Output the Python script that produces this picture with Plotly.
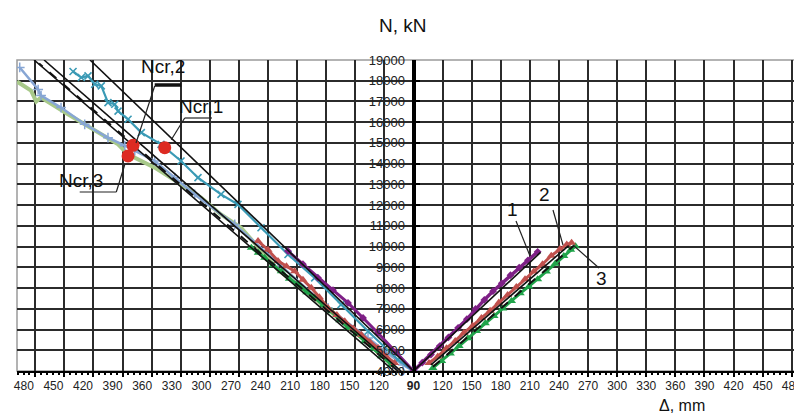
import plotly.graph_objects as go

# ---------------- data (Δ in mm as labelled on the axis, N in kN) ----------------
# Left branch (plotted to the left of the N axis)
teal_d = [441, 432.5, 425.6, 418.7, 411.9, 405, 398, 394.6, 384.3, 370.6, 350.3, 329.7,
          312.2, 288.5, 271, 247.2, 219.4, 191.9, 164.7, 136.9, 106, 90]
teal_n = [18445, 18155, 18237, 17831, 17754, 16947, 16865, 16536, 16140, 15498, 14933, 14131,
          13324, 12517, 12034, 10908, 9618, 8493, 7203, 5918, 4546, 4000]

lblue_d = [496, 477, 474, 453.4, 429, 405, 387.7, 377.4, 356.8, 336.2, 315.6, 274.3,
           229.7, 178.1, 136.9, 100.8, 90]
lblue_n = [18640, 17575, 17285, 16706, 15899, 15256, 14870, 14628, 14131, 13324, 12517, 11068,
           9217, 7044, 5594, 4290, 4000]

lgreen_d = [498.8, 484.3, 479, 474, 446.2, 422.5, 394.6, 384.3, 356.8, 329.7, 309.1, 288.5,
            267.8, 229.7, 198.8, 167.8, 136.9, 113.2]
lgreen_n = [17962, 17527, 17000, 17189, 16382, 15739, 14933, 14450, 13807, 13000, 12358, 11551,
            10908, 8879, 7768, 6560, 5353, 4338]

lpurple_d = [219.4, 204, 188.5, 173, 157.5, 142, 126.6, 108, 90]
lpurple_n = [9783, 9150, 8493, 7900, 7285, 6560, 5836, 4900, 4000]

lred_d = [250.3, 240, 229.7, 221, 212.5, 204, 195.4, 187, 178.1, 169, 160.9, 152, 143.8, 135, 126.6, 118, 109.4]
lred_n = [10266, 9850, 9300, 9050, 8817, 8400, 8010, 7560, 7044, 6700, 6401, 6050, 5754, 5400, 5111, 4700, 4386]

lgr_d = [257.2, 250, 243.4, 235, 226.3, 218, 209.1, 200, 191.9, 183, 174.7, 166, 157.5, 149, 140.3, 131, 123.2, 112.9]
lgr_n = [9942, 9700, 9459, 9100, 8817, 8450, 8169, 7800, 7527, 7180, 6884, 6450, 6077, 5800, 5435, 5080, 4710, 4304]

# Right branch
rpurple_d = [90, 99, 108, 117, 126, 136, 145, 154, 163, 172, 181, 190, 199, 208, 218]
rpurple_n = [4000, 4400, 4790, 5200, 5620, 6080, 6500, 6990, 7430, 7850, 8230, 8620, 8990, 9340, 9750]

rred_d = [106, 115, 124, 133, 142, 151, 160, 169, 178, 187, 196, 205, 214, 223, 232, 241, 248, 253]
rred_n = [4390, 4700, 5100, 5450, 5850, 6180, 6560, 6900, 7300, 7660, 8050, 8420, 8800, 9150,
          9560, 9880, 10100, 10180]

rgreen_d = [110, 119, 128, 137, 146, 155, 164, 173, 182, 191, 200, 209, 218, 227, 236, 245, 252, 257]
rgreen_n = [4150, 4480, 4850, 5200, 5580, 5930, 6300, 6650, 7020, 7380, 7750, 8080, 8420, 8800,
            9170, 9550, 9850, 10020]

# Straight reference lines
fitL_upper_d, fitL_upper_n = [90, 423.5], [4000, 19000]
fitL_mid_d, fitL_mid_n = [102.9, 470.9], [4000, 19000]
fitL_dash_d, fitL_dash_n = [106, 476], [4000, 18830]
fitL_low_d, fitL_low_n = [110.1, 481.2], [4000, 19000]
fitR1_d, fitR1_n = [90, 221], [4000, 9720]
fitR2_d, fitR2_n = [108, 250], [4300, 10050]
fitR3_d, fitR3_n = [110, 255], [4200, 10030]

# Critical forces (left branch)
ncr_d = [346.5, 379.2, 384.3]
ncr_n = [14773, 14884, 14372]
ncr_labels = ["Ncr,1", "Ncr,2", "Ncr,3"]

# Axis tick labels
tick_steps = [120, 150, 180, 210, 240, 270, 300, 330, 360, 390, 420, 450, 480]
center_label = "90"
n_ticks = [4000, 5000, 6000, 7000, 8000, 9000, 10000, 11000, 12000, 13000, 14000, 15000,
           16000, 17000, 18000, 19000]


def L(ds):
    return [-(d - 90) for d in ds]


def R(ds):
    return [d - 90 for d in ds]


# ---------------- geometry helpers for decorations ----------------
XR = 408.8
W, H = 802, 419
ML, MR, MT, MB = 9, 0, 52, 56
PW = W - ML - MR
PH = H - MT - MB


def px2x(p):
    return (p - ML) * (2 * XR) / PW - XR


def px2y(p):
    return 4000 + (MT + PH - p) * 15000 / PH


FONT = "Liberation Sans, Arial, sans-serif"

fig = go.Figure()

def add(x, y, color, width, symbol=None, msize=6, dash=None, mline=None):
    mode = "lines+markers" if symbol else "lines"
    marker = None
    if symbol:
        marker = dict(symbol=symbol, size=msize, color=color,
                      line=dict(color=color, width=mline if mline else 0))
    fig.add_trace(go.Scatter(x=x, y=y, mode=mode,
                             line=dict(color=color, width=width, dash=dash),
                             marker=marker, hoverinfo="skip", showlegend=False))

# long left curves
add(L(lgreen_d), lgreen_n, "#a8c98a", 4)
add(L(lblue_d), lblue_n, "#87a6d4", 2.5, "cross-thin", 7, mline=1.5)
add(L(teal_d), teal_n, "#3a9ab5", 2.2, "x-thin", 7, mline=1.6)
# short curves
add(L(lgr_d), lgr_n, "#20a44a", 3, "triangle-up", 8)
add(L(lred_d), lred_n, "#c0504d", 3, "triangle-up", 8)
add(L(lpurple_d), lpurple_n, "#7e1f86", 3, "diamond", 6)
add(R(rgreen_d), rgreen_n, "#20a44a", 3, "triangle-up", 8)
add(R(rred_d), rred_n, "#c0504d", 3, "triangle-up", 8)
add(R(rpurple_d), rpurple_n, "#7e1f86", 3.5, "diamond", 6)
# straight lines
add(L(fitL_upper_d), fitL_upper_n, "#111", 1.6)
add(L(fitL_mid_d), fitL_mid_n, "#111", 1.6)
add(L(fitL_dash_d), fitL_dash_n, "#111", 2, dash="dash")
add(L(fitL_low_d), fitL_low_n, "#111", 1.6)
add(R(fitR1_d), fitR1_n, "#111", 1.6)
add(R(fitR2_d), fitR2_n, "#111", 1.6)
add(R(fitR3_d), fitR3_n, "#111", 2, dash="dash")
# critical points
fig.add_trace(go.Scatter(x=L(ncr_d), y=ncr_n, mode="markers",
                         marker=dict(color="#dd2b22", size=13),
                         hoverinfo="skip", showlegend=False))
# dummy trace for the label axis
fig.add_trace(go.Scatter(x=[0], y=[4000], xaxis="x2", mode="markers",
                         marker=dict(opacity=0), hoverinfo="skip", showlegend=False))

# tick labels: right at grid lines, left slightly offset (as in source)
lab_vals = [px2x(371 - 29.6 * k) for k in range(len(tick_steps))][::-1] + [0] + [s - 90 for s in tick_steps]
lab_text = [str(s) for s in tick_steps][::-1] + ["<b>" + center_label + "</b>"] + [str(s) for s in tick_steps]

grid_c = "#2b2b2b"
fig.update_layout(
    width=W, height=H,
    margin=dict(l=ML, r=MR, t=MT, b=MB),
    paper_bgcolor="white", plot_bgcolor="white",
    font=dict(family=FONT, color="#111"),
    xaxis=dict(range=[-XR, XR], tick0=0, dtick=30, showgrid=True, gridcolor=grid_c, gridwidth=1.6,
               zeroline=True, zerolinecolor="black", zerolinewidth=3,
               showline=True, linecolor="black", linewidth=2,
               ticks="outside", ticklen=4, tickcolor="black", tickwidth=1.5,
               minor=dict(dtick=6, ticks="outside", ticklen=2, tickcolor="black", showgrid=False),
               showticklabels=False, fixedrange=True),
    xaxis2=dict(range=[-XR, XR], overlaying="x", anchor="y", side="bottom",
                tickmode="array", tickvals=lab_vals, ticktext=lab_text,
                showgrid=False, zeroline=False, showline=False, ticks="",
                tickfont=dict(size=12, family=FONT, color="#222"), ticklabelstandoff=6),
    yaxis=dict(range=[4000, 19000], tickmode="array", tickvals=n_ticks,
               ticktext=[str(v) for v in n_ticks],
               showgrid=True, gridcolor=grid_c, gridwidth=1.6,
               zeroline=False, anchor="free", position=0.5, side="left",
               showline=True, linecolor="black", linewidth=3,
               ticks="inside", ticklen=4, tickcolor="black", tickwidth=2,
               tickfont=dict(size=13, family=FONT, color="#222"), ticklabelstandoff=5,
               fixedrange=True),
)

# border (top/left grey)
fig.add_shape(type="rect", xref="paper", yref="paper", x0=0, x1=1, y0=0, y1=1,
              line=dict(color="#9a9a9a", width=1.5), layer="below")

# leader lines and underlines for the Ncr labels and curve numbers
def seg(p0, p1, w=1.2, c="#222"):
    fig.add_shape(type="line", xref="x", yref="y",
                  x0=px2x(p0[0]), y0=px2y(p0[1]), x1=px2x(p1[0]), y1=px2y(p1[1]),
                  line=dict(color=c, width=w))

seg((163.3, 131.7), (176.7, 110)); seg((176.7, 110), (204, 110))
seg((128, 135), (146.7, 78)); seg((146.7, 77), (173.3, 77), w=3.5, c="#111")
seg((116.7, 156.7), (108.3, 184)); seg((71.7, 184), (108.3, 184))
seg((508, 213), (522, 248)); seg((545, 202), (555, 237)); seg((565, 237), (591, 260))

def txt(s, px, py, size=19, xa="left", ya="bottom"):
    fig.add_annotation(text=s, xref="x", yref="y", x=px2x(px), y=px2y(py), showarrow=False,
                       xanchor=xa, yanchor=ya, font=dict(size=size, family=FONT, color="#111"))

txt(ncr_labels[0], 169, 111)
txt(ncr_labels[1], 131, 71)
txt(ncr_labels[2], 49, 185)
txt("1", 497, 214)
txt("2", 529, 199)
txt("3", 586, 283)

fig.add_annotation(text="N, kN", xref="paper", yref="paper", x=(395 - ML) / PW, y=1 + (MT - 18) / PH,
                   showarrow=False, xanchor="center", yanchor="middle",
                   font=dict(size=19, family=FONT, color="#111"))
fig.add_annotation(text="Δ, mm", xref="paper", yref="paper", x=(674 - ML) / PW, y=-(397 - MT - PH) / PH,
                   showarrow=False, xanchor="center", yanchor="middle",
                   font=dict(size=16, family=FONT, color="#111"))

fig.write_html("out.html")
